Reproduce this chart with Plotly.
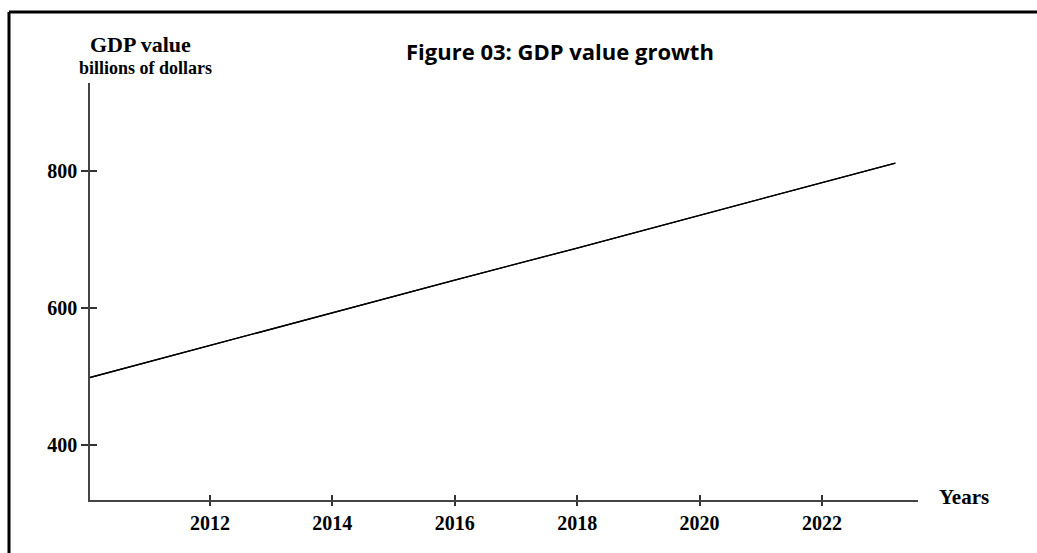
import plotly.graph_objects as go

# Data
years = [2010, 2012, 2014, 2016, 2018, 2020, 2022, 2023.2]
gdp_values = [497, 545, 592, 640, 687, 735, 782, 811]
x_ticks = [2012, 2014, 2016, 2018, 2020, 2022]
y_ticks = [400, 600, 800]

W, H = 1037, 553
L, R, T, B = 90, 119, 83, 53
pw, ph = W - L - R, H - T - B

def px(x):
    return (x - L) / pw

def py(y):
    return (H - B - y) / ph

serif = "Liberation Serif"

fig = go.Figure()
fig.add_trace(go.Scatter(x=years, y=gdp_values, mode="lines",
                         line=dict(color="black", width=1.3),
                         hoverinfo="skip", showlegend=False))
# same series on overlay axes, so that the inward half of each tick is drawn
fig.add_trace(go.Scatter(x=years, y=gdp_values, mode="lines",
                         line=dict(color="black", width=1.3),
                         xaxis="x2", yaxis="y2",
                         hoverinfo="skip", showlegend=False))

xr = [2010.04, 2023.57]
yr = [319, 928]
tickfont = dict(family=serif, size=20, color="black")
x_text = [f"<b>{v}</b>" for v in x_ticks]
y_text = [f"<b>{v}</b>" for v in y_ticks]

fig.update_layout(
    width=W, height=H,
    margin=dict(l=L, r=R, t=T, b=B),
    paper_bgcolor="white", plot_bgcolor="white",
    showlegend=False,
    xaxis=dict(range=xr, tickvals=x_ticks, ticktext=x_text, ticks="outside",
               ticklen=4, tickwidth=1.5, tickcolor="#333", showline=True,
               linecolor="#444", linewidth=1.5, showgrid=False,
               zeroline=False, tickfont=tickfont),
    yaxis=dict(range=yr, tickvals=y_ticks, ticktext=y_text, ticks="outside",
               ticklen=7, tickwidth=1.5, tickcolor="#333", showline=True,
               linecolor="#444", linewidth=1.5, showgrid=False,
               zeroline=False, tickfont=tickfont),
    xaxis2=dict(range=xr, tickvals=x_ticks, ticks="inside", ticklen=5,
                tickwidth=1.5, tickcolor="#333", overlaying="x",
                side="bottom", showticklabels=False, showline=False,
                showgrid=False, zeroline=False),
    yaxis2=dict(range=yr, tickvals=y_ticks, ticks="inside", ticklen=7,
                tickwidth=1.5, tickcolor="#333", overlaying="y",
                side="left", showticklabels=False, showline=False,
                showgrid=False, zeroline=False),
)

# page border (top and left only, as in the reference)
fig.add_shape(type="line", xref="paper", yref="paper",
              x0=px(9), y0=py(12), x1=px(W), y1=py(12),
              line=dict(color="black", width=3))
fig.add_shape(type="line", xref="paper", yref="paper",
              x0=px(9), y0=py(12), x1=px(9), y1=py(H),
              line=dict(color="black", width=3))

fig.add_annotation(text="<b>Figure 03: GDP value growth</b>",
                   xref="paper", yref="paper", x=px(560), y=py(51),
                   showarrow=False, xanchor="center", yanchor="middle",
                   font=dict(family="Open Sans", size=22, color="black"))
fig.add_annotation(text="<b>GDP value</b>", xref="paper", yref="paper",
                   x=px(140), y=py(45), showarrow=False,
                   xanchor="center", yanchor="middle",
                   font=dict(family=serif, size=22, color="black"))
fig.add_annotation(text="<b>billions of dollars</b>", xref="paper", yref="paper",
                   x=px(145), y=py(68), showarrow=False,
                   xanchor="center", yanchor="middle",
                   font=dict(family=serif, size=18, color="black"))
fig.add_annotation(text="<b>Years</b>", xref="paper", yref="paper",
                   x=px(937), y=py(497), showarrow=False,
                   xanchor="left", yanchor="middle",
                   font=dict(family=serif, size=21, color="black"))

fig.write_html("out.html",
               config={"displayModeBar": False},
               post_script="document.body.style.margin='0';"
                           "document.body.style.overflow='hidden';")
